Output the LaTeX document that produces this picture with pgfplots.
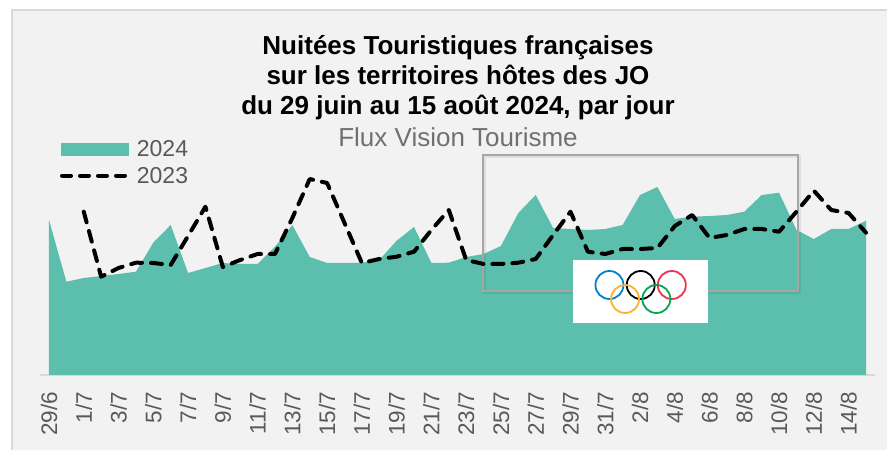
\documentclass[border=0pt]{standalone}
\usepackage{fontspec}
\setmainfont{Liberation Sans}
\usepackage{pgfplots}
\usepackage{pgfplotstable}
\pgfplotsset{compat=1.18}

\definecolor{area24}{RGB}{92,190,172}
\definecolor{chartbg}{RGB}{242,242,242}
\definecolor{bordgray}{RGB}{217,217,217}
\definecolor{txtgray}{RGB}{89,89,89}
\definecolor{subgray}{RGB}{112,112,112}
\definecolor{boxgray}{RGB}{166,166,166}
\definecolor{ringblue}{RGB}{0,129,200}
\definecolor{ringyellow}{RGB}{252,177,49}
\definecolor{ringgreen}{RGB}{0,166,81}
\definecolor{ringred}{RGB}{238,51,78}

% idx 0 = 29/6 ... idx 47 = 15/8 ; heights
\pgfplotstableread{
idx v24   v23
0   155   nan
1   93.3  nan
2   97    163.3
3   99    98.3
4   101   107
5   103.3 112.3
6   132.3 112
7   150   110
8   102   139
9   107   168.3
10  112   108
11  111   115
12  111   121
13  128.3 121
14  150   157
15  118   196
16  112   192
17  112   152
18  112.3 112
19  115   116
20  134.3 118.3
21  148   123.3
22  112   145
23  112.3 165
24  118   115
25  121   111
26  129   111
27  162   112.3
28  180   116
29  147   140
30  146   163.3
31  145   123.3
32  146   121
33  150   126
34  180   126
35  188   127
36  156   149
37  158.3 160
38  159   137
39  160   140
40  163.3 146
41  180   146
42  182.3 143.3
43  145   163.3
44  136   184.3
45  146   165
46  146   162
47  154.3 142.3
}\nuitees

\begin{document}
\begin{tikzpicture}
\fill[white] (0,0) rectangle (887pt,450pt);
\fill[chartbg] (12pt,0) rectangle (887pt,440pt);
\draw[bordgray, line width=1.5pt] (12pt,0) -- (12pt,440pt) -- (887pt,440pt);

% title
\node[anchor=base, inner sep=0pt, font=\fontsize{26}{30}\selectfont\bfseries] at (458pt,395pt) {Nuitées Touristiques françaises};
\node[anchor=base, inner sep=0pt, font=\fontsize{26}{30}\selectfont\bfseries] at (458pt,365pt) {sur les territoires hôtes des JO};
\node[anchor=base, inner sep=0pt, font=\fontsize{26}{30}\selectfont\bfseries] at (458pt,335pt) {du 29 juin au 15 août 2024, par jour};
\node[anchor=base, inner sep=0pt, text=subgray, font=\fontsize{26}{30}\selectfont] at (458pt,303.3pt) {Flux Vision Tourisme};

% legend
\fill[area24] (61pt,294.3pt) rectangle (129pt,307.3pt);
\node[anchor=base west, inner sep=0pt, text=txtgray, font=\fontsize{23}{26}\selectfont] at (136.7pt,293pt) {2024};
\draw[black, line width=4pt, line cap=round, dash pattern=on 9pt off 9pt] (62pt,274.3pt) -- (128pt,274.3pt);
\node[anchor=base west, inner sep=0pt, text=txtgray, font=\fontsize{23}{26}\selectfont] at (136.7pt,266.7pt) {2023};

\begin{axis}[
  at={(40.3pt,75pt)}, anchor=south west,
  scale only axis,
  width=834.4pt, height=220pt,
  xmin=-0.5, xmax=47.5,
  ymin=0, ymax=220,
  clip=false,
  axis x line*=bottom,
  axis y line=none,
  x axis line style={bordgray, line width=1.5pt, -},
  xtick={0,2,...,46},
  xticklabels={29/6,1/7,3/7,5/7,7/7,9/7,11/7,13/7,15/7,17/7,19/7,21/7,23/7,25/7,27/7,29/7,31/7,2/8,4/8,6/8,8/8,10/8,12/8,14/8},
  major tick length=0pt,
  xtick style={draw=none},
  xticklabel shift=17pt,
  xticklabel style={rotate=90, anchor=east, inner sep=0pt, text=txtgray,
    font=\fontsize{22.5}{24}\selectfont},
  ytick=\empty,
]
\addplot[fill=area24, draw=none] table[x=idx, y=v24] {\nuitees} \closedcycle;

% Olympic period frame
\draw[black, opacity=0.07, line width=3pt] ([xshift=1.5pt,yshift=-1.5pt]axis cs:24.95,84) rectangle ([xshift=1.5pt,yshift=-1.5pt]axis cs:43.1,220);
\draw[boxgray, line width=2pt] (axis cs:24.95,84) rectangle (axis cs:43.1,220);

\addplot[black, line width=4pt, line cap=round, line join=round,
  dash pattern=on 11pt off 9pt] table[x=idx, y=v23] {\nuitees};

% rings logo
\fill[white] (axis cs:30.15,52) rectangle (axis cs:37.92,115);
\draw[ringblue, line width=1.8pt] (axis cs:32.24,90) circle[radius=14pt];
\draw[black, line width=1.8pt] (axis cs:34.04,90) circle[radius=14pt];
\draw[ringred, line width=1.8pt] (axis cs:35.83,90) circle[radius=14pt];
\draw[ringyellow, line width=1.8pt] (axis cs:33.14,76) circle[radius=14pt];
\draw[ringgreen, line width=1.8pt] (axis cs:34.94,76) circle[radius=14pt];
\end{axis}

\pgfresetboundingbox
\useasboundingbox (0,0) rectangle (887pt,450pt);
\end{tikzpicture}
\end{document}
